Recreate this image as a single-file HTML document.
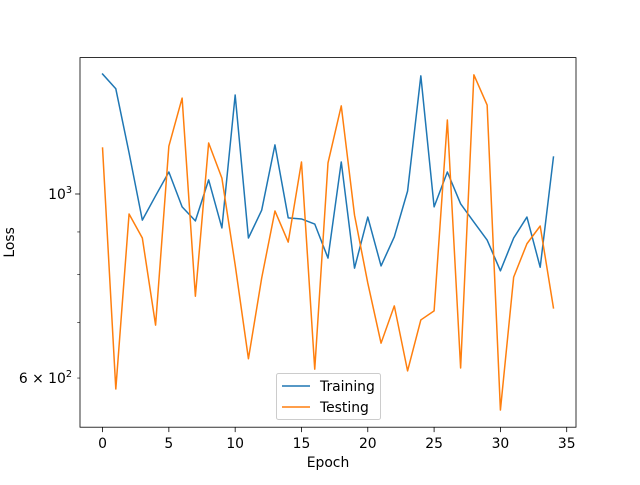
<!DOCTYPE html>
<html><head><meta charset="utf-8"><style>
body{margin:0;background:#fff;}
svg{font-family:"DejaVu Sans","Liberation Sans",sans-serif;}
</style></head><body>
<svg id="chart" width="640" height="480" xmlns="http://www.w3.org/2000/svg">
<rect width="640" height="480" fill="#fff"/>
<g id="plot"></g>
</svg>
<script>
const epochs=[...Array(35).keys()];
const training=[1395,1339,1121,930,995,1063,965,928,1040,910,1316,885,956,1146,936,933,920,837,1093,814,938,819,888,1008,1388,965,1063,973,925,880,808,885,938,816,1108];
const testing=[1136,582,946,885,695,1142,1305,753,1152,1045,821,633,792,954,875,1093,615,1090,1277,943,781,661,733,612,705,723,1228,617,1392,1280,549,794,871,915,729];
const xTicks=[0,5,10,15,20,25,30,35];
const yMinorTicks=[600,700,800,900];
const L=80,R=576,T=57.6,B=427.2;
const xmin=-1.7,xmax=35.7;
const ytop=3.1644,ybot=2.7189;
const sx=v=>L+(v-xmin)/(xmax-xmin)*(R-L);
const sy=v=>T+(ytop-Math.log10(v))/(ytop-ybot)*(B-T);
const NS="http://www.w3.org/2000/svg";
const g=document.getElementById('plot');
const FS=13.9;
function mk(t,a,txt){const e=document.createElementNS(NS,t);for(const k in a)e.setAttribute(k,a[k]);if(txt!==undefined)e.textContent=txt;g.appendChild(e);return e;}
function series(vals,color,name){
 const d=vals.map((v,i)=>(i?'L':'M')+sx(epochs[i]).toFixed(2)+','+sy(v).toFixed(2)).join('');
 const p=mk('path',{d:d,fill:'none',stroke:color,'stroke-width':1.5,'stroke-linejoin':'round','stroke-linecap':'square'});
 
 
}
series(training,'#1f77b4','training-line');
series(testing,'#ff7f0e','testing-line');
const fr=mk('rect',{x:L,y:T,width:R-L,height:B-T,fill:'none',stroke:'#000','stroke-width':0.8});


xTicks.forEach(t=>{const x=sx(t);
 mk('line',{x1:x,x2:x,y1:B,y2:B+4.9,stroke:'#000','stroke-width':0.8});
 const tx=mk('text',{x:x,y:B+21,'font-size':FS,'text-anchor':'middle',fill:'#000'},String(t));
 
 
});
yMinorTicks.forEach(t=>{const y=sy(t);
 mk('line',{x1:L-2.8,x2:L,y1:y,y2:y,stroke:'#000','stroke-width':0.6});
});
const y3=sy(1000);
mk('line',{x1:L-4.9,x2:L,y1:y3,y2:y3,stroke:'#000','stroke-width':0.8});
const l1=mk('text',{x:L-8,y:y3+5,'font-size':FS,'text-anchor':'end'});
l1.innerHTML='10<tspan dy="-6" font-size="9.7">3</tspan>';


const y6=sy(600);
const l2=mk('text',{x:L-8,y:y6+5,'font-size':FS,'text-anchor':'end'});
l2.innerHTML='6 × 10<tspan dy="-6" font-size="9.7">2</tspan>';


const xt=mk('text',{x:(L+R)/2,y:467,'font-size':FS,'text-anchor':'middle'},'Epoch');


const yt=mk('text',{x:14,y:(T+B)/2,'font-size':FS,'text-anchor':'middle',transform:`rotate(-90 14 ${(T+B)/2})`},'Loss');


const lg=mk('rect',{x:276.5,y:373.5,width:104,height:46,rx:2,fill:'#fff','fill-opacity':0.8,stroke:'#ccc','stroke-width':1});


[['Training','#1f77b4',386],['Testing','#ff7f0e',407]].forEach(([n,c,y])=>{
 mk('line',{x1:282,x2:310,y1:y,y2:y,stroke:c,'stroke-width':1.5});
 const t=mk('text',{x:320,y:y+5,'font-size':FS},n);
 
 
});
</script>
</body></html>
